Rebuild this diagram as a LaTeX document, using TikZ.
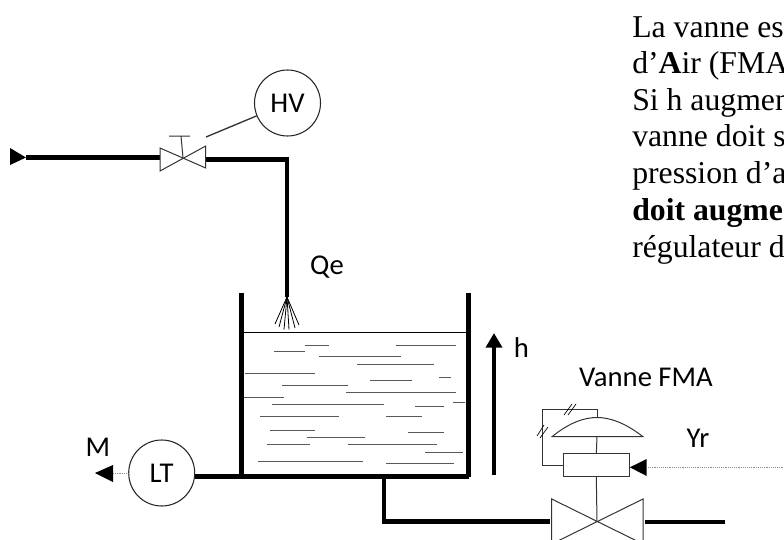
\documentclass[tikz,border=0pt]{standalone}
\usepackage{fontspec}
\setmainfont{Liberation Serif}
\newfontfamily\labelfont{Carlito}
\usetikzlibrary{positioning, arrows.meta, calc}

\begin{document}
\begin{tikzpicture}[
  x=0.75pt, y=-0.75pt,
  pipe/.style={line width=3.3pt, line cap=butt},
  wall/.style={line width=3.6pt},
  thin line/.style={draw=black!80, line width=0.75pt},
  signal/.style={draw=black!45, line width=0.4pt, densely dotted},
  instr/.style={circle, draw=black!85, line width=0.8pt, minimum size=49.5pt, inner sep=0pt, font=\labelfont\fontsize{21.5}{24}\selectfont},
  tag/.style={inner sep=0pt, font=\labelfont\fontsize{21.5}{24}\selectfont},
  para/.style={anchor=base west, inner sep=0pt, font=\fontsize{23.8}{28}\selectfont},
  wave/.style={draw=black!65, line width=0.7pt},
  tip/.style={fill=black}
]
  \useasboundingbox (0,0) rectangle (784,539);
  \begin{scope}
  \clip (0,0) rectangle (784,539);

  % texte
  \node[para] (t1) at (632,37) {La vanne es};
  \node[para] (t2) at (632,73.7) {d’\textbf{A}ir (FMA};
  \node[para] (t3) at (632,110) {Si h augmen};
  \node[para] (t4) at (632,146.7) {vanne doit s};
  \node[para] (t5) at (632,183) {pression d’a};
  \node[para] (t6) at (632,220) {\textbf{doit augme}};
  \node[para] (t7) at (632,257) {régulateur d};

  % instruments
  \node[instr] (hv) at (287.5,103) {HV};
  \node[instr] (lt) at (161.7,473) {LT};
  \node[tag] (qe) at (327,267) {Qe};
  \node[tag] (ll) at (521.5,348) {h};
  \node[tag] (fma) at (646,377) {Vanne FMA};
  \node[tag] (yr) at (698,438) {Yr};
  \node[tag] (mm) at (98,447) {M};

  % arrivee
  \coordinate (in) at (26,157.5);
  \coordinate (vl) at (160,157.5);
  \coordinate (vc) at (183,158);
  \coordinate (vr) at (206,159.5);
  \coordinate (drop) at (287,297);
  \fill[tip] (10,148) -- (in) -- (10,165) -- cycle;
  \draw[pipe] (in) -- (vl);
  \draw[pipe] (vr) -- (drop |- vr) -- (drop);
  \draw[thin line, fill=white] (160,148) -- (205.7,168) -- (205.7,146) -- (160,171) -- cycle;
  \draw[thin line] (vc) -- (181,136) (169,136) -- (190,136);
  \draw[thin line, line width=1pt] (hv) -- (206,137);

  % jet
  \foreach \ex/\ey in {275/324, 279/327, 284/329.5, 289/329.5, 295/328, 299/325}
    \draw[line width=0.6pt] (drop) -- (\ex,\ey);

  % cuve
  \coordinate (floorL) at (241.7,476.5);
  \coordinate (floorR) at (468.5,476.5);
  \draw[wall] (241.7,292.7) -- (floorL);
  \draw[wall] (468.5,292.7) -- (floorR);
  \draw[line width=0.8pt] (243,332.3) -- (466,332.3);
  \foreach \xa/\xb/\yy in {305/329/345, 396/456/345, 274/305/351.3, 319/401/356.7,
      357/434/364, 245/315/373.7, 370/412/380, 439/451/377.7, 282/348/385,
      346/456/392.3, 244/284/397, 272/384/404.3, 415/444/406.3, 453/465/402,
      260/339/416, 386/422/416, 270/315/430.7, 307/365/437.7, 408/444/432.7,
      267/310/444.3, 348/437/444.3, 425/463/452, 258/363/461.3, 386/454/463.7}
    \draw[wave] (\xa,\yy) -- (\xb,\yy);

  % sortie
  \draw[pipe] (lt.east |- floorR) -- (floorR);
  \coordinate (vin) at (550,521.5);
  \coordinate (vmid) at (597,521.7);
  \draw[pipe] (384,476) -- (384,521.5) -- (vin);
  \draw[pipe] (645,521.7) -- (725,521.7);

  % hauteur
  \coordinate (hb) at (494,475);
  \coordinate (ht) at (494,333);
  \draw[line width=3pt, -{Triangle[length=11pt,width=12pt]}] (hb) -- (ht);

  % vanne FMA
  \node[draw=black!80, fill=white, line width=0.75pt, minimum width=49.5pt, minimum height=17pt, inner sep=0pt] (act) at (596.3,465.3) {};
  \coordinate (dome) at (597,417.5);
  \draw[thin line] (552,436.7) .. controls (570,422) and (585,417.5) .. (dome) .. controls (609,417.5) and (624,422) .. (643,436.7) -- cycle;
  \draw[thin line] (551.7,499) -- (643,544) -- (643,499) -- (551.7,544) -- cycle;
  \draw[thin line] (597,436.7) -- (act.north);
  \draw[thin line] (act.south) -- (vmid);
  \draw[thin line] (dome) -- ++(0,-8.5) -| (542,465) -- (act.west |- 0,465);
  \draw[line width=0.5pt] (564,415) -- (572,404) (568,415) -- (576,404);
  \draw[line width=0.5pt] (537,436) -- (544,425) (540,438) -- (548,427);

  % signaux
  \coordinate (yrend) at (784,467.3);
  \fill[tip] (act.east |- yrend) -- (646.7,459) -- (646.7,476) -- cycle;
  \draw[signal] (648,467.3) -- (yrend);
  \fill[tip] (95,473) -- (113,465) -- (113,482) -- cycle;
  \draw[signal] (113,473) -- (lt.west);
  \end{scope}
\end{tikzpicture}
\end{document}
